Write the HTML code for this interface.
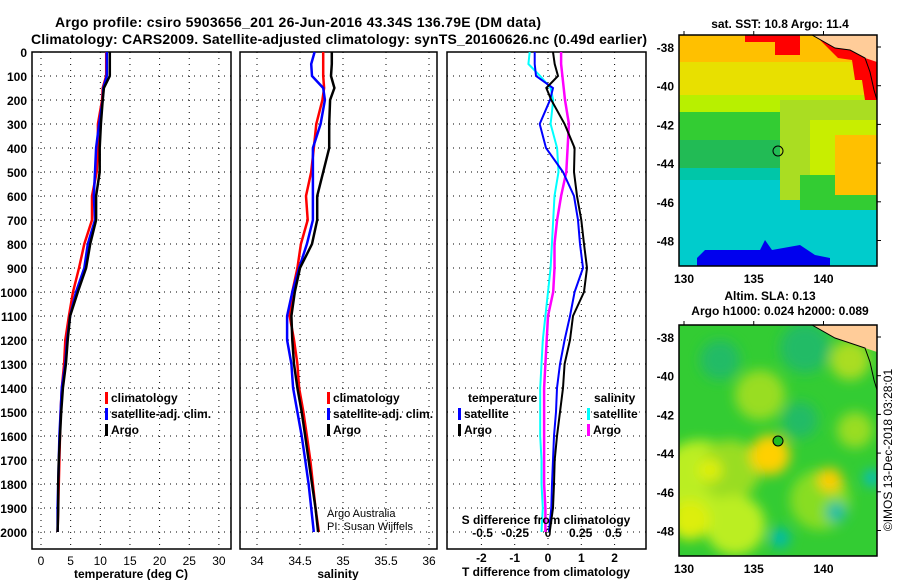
<!DOCTYPE html>
<html><head><meta charset="utf-8"><style>
body{margin:0;background:#fff;}
svg{display:block;font-family:"Liberation Sans",sans-serif;font-weight:bold;}
</style></head><body>
<svg id="chart" width="900" height="580" viewBox="0 0 900 580">
<text x="298" y="27" font-size="14" text-anchor="middle" textLength="486">Argo profile: csiro 5903656_201 26-Jun-2016 43.34S 136.79E (DM data)</text>
<text x="339" y="44" font-size="14" text-anchor="middle" textLength="616">Climatology: CARS2009. Satellite-adjusted climatology: synTS_20160626.nc (0.49d earlier)</text>
<g id="plots"></g>
<g id="maps"></g>
<text transform="translate(892,450) rotate(-90)" font-size="12" font-weight="normal" text-anchor="middle">©IMOS 13-Dec-2018 03:28:01</text>
</svg>
<script>
const depths=[0,50,100,150,200,300,400,500,600,700,800,900,1000,1100,1200,1300,1400,1500,1600,1700,1800,1900,2000];
const tempArgo=[11.6,11.6,11.6,10.6,10.4,10.1,9.9,9.9,9.3,9.3,8.3,7.6,6.2,4.9,4.5,4.2,3.7,3.4,3.2,3.0,2.9,2.9,2.8];
const tempSat=[11.1,11.1,11.1,10.5,10.4,9.8,9.3,9.1,8.9,9.1,7.9,7.3,5.9,4.9,4.4,4.1,3.5,3.3,3.1,3.0,2.9,2.8,2.8];
const tempClim=[11.0,11.0,11.0,10.4,10.3,9.6,9.6,9.4,8.6,8.6,7.3,6.4,5.4,4.7,4.1,3.9,3.5,3.3,3.2,3.1,3.0,2.9,2.8];
const salArgo=[34.87,34.87,34.86,34.9,34.85,34.84,34.84,34.77,34.7,34.7,34.64,34.5,34.44,34.4,34.41,34.43,34.47,34.52,34.56,34.6,34.64,34.68,34.71];
const salSat=[34.67,34.63,34.64,34.77,34.79,34.74,34.65,34.65,34.65,34.65,34.58,34.49,34.41,34.35,34.35,34.4,34.42,34.47,34.52,34.56,34.6,34.63,34.66];
const salClim=[34.77,34.77,34.77,34.78,34.76,34.69,34.66,34.63,34.57,34.59,34.51,34.47,34.41,34.38,34.43,34.47,34.49,34.54,34.58,34.62,34.65,34.68,34.72];
const dT_Argo=[0.15,0.2,0.3,-0.05,0.1,0.5,0.8,0.78,0.87,1.0,1.08,1.17,1.08,0.75,0.66,0.5,0.45,0.36,0.27,0.2,0.18,0.15,0.05];
const dT_Sat=[-0.4,-0.4,-0.36,0.15,0.06,-0.25,-0.06,0.45,0.78,0.9,0.96,1.05,0.8,0.66,0.5,0.36,0.27,0.24,0.18,0.15,0.12,0.1,0.03];
const dS_Argo=[0.1,0.1,0.11,0.12,0.13,0.16,0.15,0.14,0.1,0.07,0.05,0.05,0.04,0,-0.01,-0.02,-0.03,-0.03,-0.03,-0.03,-0.03,-0.02,-0.02];
const dS_Sat=[-0.14,-0.15,-0.06,0.02,0.04,0.02,0.07,0.08,0.05,0.04,0.03,0.02,0,-0.02,-0.04,-0.05,-0.06,-0.06,-0.06,-0.05,-0.05,-0.04,-0.05];
const depthTicks=[0,100,200,300,400,500,600,700,800,900,1000,1100,1200,1300,1400,1500,1600,1700,1800,1900,2000];
const tTicks=[0,5,10,15,20,25,30];
const sTicks=[34,34.5,35,35.5,36];
const dTTicks=[-2,-1,0,1,2];
const dSTicks=[-0.5,-0.25,0,0.25,0.5];
const dSLabels=["-0.5","-0.25","0","0.25","0.5"];

const NS="http://www.w3.org/2000/svg";
const plots=document.getElementById('plots');
function mk(tag,attrs,parent){const e=document.createElementNS(NS,tag);for(const k in attrs)e.setAttribute(k,attrs[k]);(parent||plots).appendChild(e);return e;}
const Y0=52,YTOP=52,YBOT=549;
const yOf=d=>Y0+d*0.24;
const xT=v=>41+v*5.93;
const xS=v=>257+(v-34)*86;
const xdT=v=>548+v*33.3;
const xdS=v=>548+v*130.7;

function frame(x0,x1,name){
  const r=mk('rect',{x:x0,y:YTOP,width:x1-x0,height:YBOT-YTOP,fill:'none',stroke:'#000','stroke-width':1.5});
  
  
  depthTicks.forEach(d=>{
    const l=mk('line',{x1:x0,x2:x1,y1:yOf(d),y2:yOf(d),stroke:'#000','stroke-dasharray':'1,5','stroke-width':1});
    
    
  });
}
function vgrid(xs,fx){xs.forEach(v=>{
  const l=mk('line',{x1:fx(v),x2:fx(v),y1:YTOP,y2:YBOT,stroke:'#000','stroke-dasharray':'1,5'});
  
  
});}
function line(vals,fx,color,w,name){
  const pts=vals.map((v,i)=>fx(v).toFixed(1)+','+yOf(depths[i]).toFixed(1)).join(' ');
  const p=mk('polyline',{points:pts,fill:'none',stroke:color,'stroke-width':w});
  
  
}
function txt(x,y,s,opts){const t=mk('text',Object.assign({x:x,y:y,'font-size':12},opts||{}));t.textContent=s;return t;}

// Panel 1
frame(32,231,'temperature-panel');
vgrid(tTicks,xT);
depthTicks.forEach(d=>{const t=txt(27,yOf(d)+5,String(d),{'text-anchor':'end'});});
tTicks.forEach(v=>{const t=txt(xT(v),565,String(v),{'text-anchor':'middle','font-weight':'normal'});});
line(tempClim,xT,'#f00',2.5,'temp-climatology-line');
line(tempSat,xT,'#00f',2.5,'temp-satellite-line');
line(tempArgo,xT,'#000',2.5,'temp-argo-line');
{const t=txt(131,578,'temperature (deg C)',{'text-anchor':'middle'});}

// Panel 2
frame(240,437,'salinity-panel');
vgrid(sTicks,xS);
sTicks.forEach(v=>{const t=txt(xS(v),565,String(v),{'text-anchor':'middle','font-weight':'normal'});});
line(salClim,xS,'#f00',2.5,'sal-climatology-line');
line(salSat,xS,'#00f',2.5,'sal-satellite-line');
line(salArgo,xS,'#000',2.5,'sal-argo-line');
{const t=txt(338,578,'salinity',{'text-anchor':'middle'});}
{const t=txt(327,517,'Argo Australia',{'font-weight':'normal','font-size':11});}
{const t=txt(327,530,'PI: Susan Wijffels',{'font-weight':'normal','font-size':11});}

// Panel 3
frame(447,646,'difference-panel');
vgrid(dTTicks,xdT);
dTTicks.forEach(v=>{const t=txt(xdT(v),562,String(v),{'text-anchor':'middle'});});
dSTicks.forEach((v,i)=>{const t=txt(xdS(v),537,dSLabels[i],{'text-anchor':'middle'});});
line(dS_Sat,xdS,'#0ff',2,'dS-satellite-line');
line(dS_Argo,xdS,'#f0f',2.5,'dS-argo-line');
line(dT_Sat,xdT,'#00f',2,'dT-satellite-line');
line(dT_Argo,xdT,'#000',2,'dT-argo-line');
{const t=txt(546,524,'S difference from climatology',{'text-anchor':'middle'});}
{const t=txt(546,576,'T difference from climatology',{'text-anchor':'middle'});}

// Legends
function legend(x,y,items,name){
  const g=mk('g',{});
  
  
  items.forEach((it,i)=>{
    if(it[1]){const r=mk('rect',{x:x,y:y+i*16-10,width:3,height:12,fill:it[1]},g);}
    const t=mk('text',{x:x+(it[1]?6:0),y:y+i*16,'font-size':12,fill:'#000'},g);t.textContent=it[0];
    
  });
}
legend(105,402,[['climatology','#f00'],['satellite-adj. clim.','#00f'],['Argo','#000']],'legend-temperature');
legend(327,402,[['climatology','#f00'],['satellite-adj. clim.','#00f'],['Argo','#000']],'legend-salinity');
legend(468,402,[['temperature',null]],'legend-diff-temp-header');
legend(458,418,[['satellite','#00f'],['Argo','#000']],'legend-diff-temp');
legend(594,402,[['salinity',null]],'legend-diff-sal-header');
legend(587,418,[['satellite','#0ff'],['Argo','#f0f']],'legend-diff-sal');

// Maps
const maps=document.getElementById('maps');
function mm(tag,attrs,parent){const e=document.createElementNS(NS,tag);for(const k in attrs)e.setAttribute(k,attrs[k]);(parent||maps).appendChild(e);return e;}
const defs=mm('defs',{});
defs.innerHTML='<clipPath id="c1"><rect x="679" y="35" width="198" height="231"/></clipPath><clipPath id="c2"><rect x="679" y="325" width="198" height="231"/></clipPath><filter id="bl"><feGaussianBlur stdDeviation="6"/></filter>';
function mapAxes(y0,y1,latTop,name){
  [-38,-40,-42,-44,-46,-48].forEach(l=>{
    const y=y0+12+(-38-l)*19.35;
    const t=mm('text',{x:674,y:y+5,'font-size':12,'text-anchor':'end'});t.textContent=String(l);
    
    mm('line',{x1:877,x2:881,y1:y,y2:y,stroke:'#000'});
  });
  [130,135,140].forEach(l=>{
    const x=684+(l-130)*13.95;
    const t=mm('text',{x:x,y:y1+17,'font-size':12,'text-anchor':'middle'});t.textContent=String(l);
    
    mm('line',{x1:x,x2:x,y1:y0-4,y2:y0,stroke:'#000'});
  });
  const r=mm('rect',{x:679,y:y0,width:198,height:y1-y0,fill:'none',stroke:'#000','stroke-width':1.5});
  
}
// SST map
const g1=mm('g',{'clip-path':'url(#c1)'});


[['#ffc000',35,45],['#ffc000',45,62],['#e8e000',62,95],['#b8f000',95,112],['#33cc33',112,140],['#22bb55',140,168],['#00c6a8',168,180],['#00cccc',180,266]].forEach(b=>mm('rect',{x:679,y:b[1],width:198,height:b[2]-b[1]+1,fill:b[0]},g1));
mm('rect',{x:780,y:100,width:97,height:100,fill:'#aadd22'},g1);
mm('rect',{x:810,y:120,width:67,height:60,fill:'#c8ee00'},g1);
mm('rect',{x:800,y:175,width:77,height:35,fill:'#33cc33'},g1);
mm('rect',{x:835,y:135,width:42,height:60,fill:'#ffc000'},g1);
mm('path',{d:'M745,35 L800,35 L800,55 L775,55 L775,42 L745,42 Z',fill:'#f00'},g1);
mm('path',{d:'M815,35 L877,35 L877,100 L865,100 L862,80 L855,80 L852,60 L838,58 Z',fill:'#f00'},g1);
mm('path',{d:'M697,258 L705,250 L760,250 L765,240 L772,250 L800,245 L815,255 L830,258 L830,266 L697,266 Z',fill:'#0000ee'},g1);
mm('path',{d:'M812,35 L877,35 L877,62 L865,58 L850,50 L835,48 Z',fill:'#fc9'},g1);
mm('path',{d:'M812,35 L835,48 L850,50 L865,58 L870,72 L874,90 L877,100',fill:'none',stroke:'#000'},g1);
mm('circle',{cx:778,cy:151,r:5,fill:'none',stroke:'#000'},g1);
mapAxes(35,266,47,'sst-map-frame');
{const t=mm('text',{x:780,y:28,'font-size':12,'text-anchor':'middle'});t.textContent='sat. SST: 10.8 Argo: 11.4';}
// SLA map
const g2=mm('g',{'clip-path':'url(#c2)'});


mm('rect',{x:679,y:325,width:198,height:231,fill:'#33cc33'},g2);
const blobs=mm('g',{filter:'url(#bl)'},g2);
[[700,480,40,'#bbee22'],[730,470,30,'#99dd22'],[760,395,25,'#99dd22'],[770,455,20,'#ffd000'],[710,470,12,'#ddee11'],[735,525,30,'#bbee22'],[820,500,30,'#88dd22'],[830,480,12,'#ffcc00'],[850,360,20,'#aadd22'],[855,430,18,'#99dd22'],[690,520,20,'#ddee11'],[800,420,18,'#22bb66'],[805,348,25,'#22bb66'],[720,360,20,'#22bb66'],[780,538,10,'#00bbaa'],[836,512,10,'#00bbaa'],[872,478,8,'#00bbcc']].forEach(b=>mm('circle',{cx:b[0],cy:b[1],r:b[2],fill:b[3]},blobs));
mm('path',{d:'M812,325 L877,325 L877,352 L865,348 L850,343 L835,338 Z',fill:'#fc9'},g2);
mm('path',{d:'M812,325 L835,338 L850,343 L865,348 L870,362 L874,380 L877,390',fill:'none',stroke:'#000'},g2);
mm('circle',{cx:778,cy:441,r:5,fill:'#22bb22',stroke:'#000'},g2);
mapAxes(325,556,337,'sla-map-frame');
{const t=mm('text',{x:770,y:300,'font-size':12,'text-anchor':'middle'});t.textContent='Altim. SLA: 0.13';}
{const t=mm('text',{x:780,y:315,'font-size':12,'text-anchor':'middle'});t.textContent='Argo h1000: 0.024 h2000: 0.089';}
</script>
</body></html>
